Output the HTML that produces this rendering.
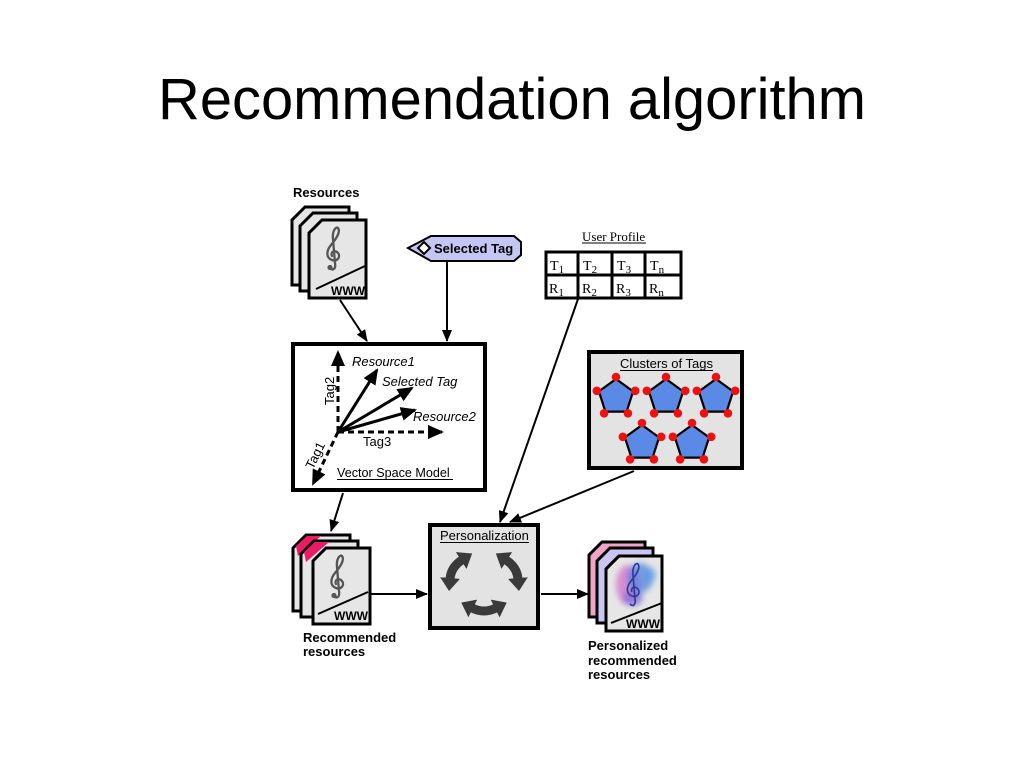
<!DOCTYPE html>
<html>
<head>
<meta charset="utf-8">
<style>
html,body{margin:0;padding:0;background:#fff;}
svg{display:block;}
text{font-family:"Liberation Sans",sans-serif;}
text.serif{font-family:"Liberation Serif",serif;}
</style>
</head>
<body>
<svg width="1024" height="768" viewBox="0 0 1024 768" xmlns="http://www.w3.org/2000/svg">
<defs>
  <marker id="ah" viewBox="0 0 12 10" markerWidth="12" markerHeight="10" refX="11" refY="5" orient="auto" markerUnits="userSpaceOnUse">
    <path d="M0,0 L12,5 L0,10 z" fill="#000"/>
  </marker>
  <marker id="big" viewBox="0 0 16 14" markerWidth="16" markerHeight="14" refX="14" refY="7" orient="auto" markerUnits="userSpaceOnUse">
    <path d="M0,0 L16,7 L0,14 z" fill="#000"/>
  </marker>
  <marker id="cah" viewBox="0 0 13 20" markerWidth="13" markerHeight="20" refX="1" refY="10" orient="auto-start-reverse" markerUnits="userSpaceOnUse">
    <path d="M0,0 L13,10 L0,20 z" fill="#3a3a3a"/>
  </marker>
  <g id="pent">
    <polygon points="0,-18 17.1,-5.6 10.6,14.6 -10.6,14.6 -17.1,-5.6" fill="#5a8ae6" stroke="#000" stroke-width="2.2"/>
    <circle cx="0" cy="-20" r="4.3" fill="#ee1111"/>
    <circle cx="19.2" cy="-6.2" r="4.3" fill="#ee1111"/>
    <circle cx="11.9" cy="16.3" r="4.3" fill="#ee1111"/>
    <circle cx="-11.9" cy="16.3" r="4.3" fill="#ee1111"/>
    <circle cx="-19.2" cy="-6.2" r="4.3" fill="#ee1111"/>
  </g>
  <g id="clef">
    <circle cx="6" cy="42.5" r="2.6" fill="#555"/>
    <path d="M6,43 C9,46 12,44 11,38 L9,14 C8,6 12,1 14,3 C17,7 12,14 7,20 C2,26 2,33 8,35 C13,37 17,32 14,28 C11,24 6,27 8,31" fill="none" stroke="#555" stroke-width="2.3" stroke-linecap="round"/>
  </g>
  <filter id="blur" x="-30%" y="-30%" width="160%" height="160%">
    <feGaussianBlur stdDeviation="3"/>
  </filter>
  <clipPath id="frontclip">
    <path d="M619,556 H662 V631 H606 V569 Z"/>
  </clipPath>
</defs>

<!-- Title -->
<text x="158" y="119" font-size="58" textLength="708" lengthAdjust="spacingAndGlyphs" fill="#000">Recommendation algorithm</text>

<!-- Resources stack -->
<text x="293" y="197" font-size="13" font-weight="bold">Resources</text>
<g stroke="#000" stroke-width="3" fill="#e6e6e6" stroke-linejoin="miter">
  <path d="M305,207 H349 V285 H292 V220 Z"/>
  <path d="M313,213 H357 V291 H300 V226 Z"/>
  <path d="M322,220 H366 V298 H309 V233 Z"/>
</g>
<use href="#clef" transform="translate(324,225)"/>
<line x1="316" y1="289" x2="365" y2="266" stroke="#000" stroke-width="2"/>
<text x="331" y="295" font-size="12" font-weight="bold">WWW</text>

<!-- Selected Tag -->
<path d="M408,248 L431,236 H514 L521,242 V255 L514,261 H431 Z" fill="#c6c6f4" stroke="#000" stroke-width="2"/>
<polygon points="424,242 430,248 424,254 418,248" fill="#fff" stroke="#000" stroke-width="2"/>
<text x="434" y="253" font-size="13" font-weight="bold">Selected Tag</text>

<!-- User Profile -->
<text class="serif" x="582" y="241" font-size="13">User Profile</text>
<line x1="582" y1="243" x2="646" y2="243" stroke="#000" stroke-width="1"/>
<g stroke="#000" stroke-width="3" fill="#fff">
  <rect x="546" y="252" width="135" height="46"/>
  <line x1="578" y1="252" x2="578" y2="298"/>
  <line x1="612" y1="252" x2="612" y2="298"/>
  <line x1="645" y1="252" x2="645" y2="298"/>
  <line x1="546" y1="275" x2="681" y2="275"/>
</g>
<g font-size="14">
  <text class="serif" x="550" y="270">T<tspan font-size="11" dy="3">1</tspan></text>
  <text class="serif" x="583" y="270">T<tspan font-size="11" dy="3">2</tspan></text>
  <text class="serif" x="617" y="270">T<tspan font-size="11" dy="3">3</tspan></text>
  <text class="serif" x="650" y="270">T<tspan font-size="11" dy="3">n</tspan></text>
  <text class="serif" x="549" y="293">R<tspan font-size="11" dy="3">1</tspan></text>
  <text class="serif" x="582" y="293">R<tspan font-size="11" dy="3">2</tspan></text>
  <text class="serif" x="616" y="293">R<tspan font-size="11" dy="3">3</tspan></text>
  <text class="serif" x="649" y="293">R<tspan font-size="11" dy="3">n</tspan></text>
</g>

<!-- Vector Space Model box -->
<rect x="293" y="344" width="192" height="146" fill="#fff" stroke="#000" stroke-width="4"/>
<g stroke="#000" stroke-width="3" fill="none">
  <line x1="338" y1="432" x2="338" y2="352" stroke-dasharray="6,4" marker-end="url(#big)"/>
  <line x1="338" y1="432" x2="442" y2="432" stroke-dasharray="6,4" marker-end="url(#big)"/>
  <line x1="338" y1="432" x2="313" y2="484" stroke-dasharray="6,4" marker-end="url(#big)"/>
  <line x1="338" y1="432" x2="377" y2="370" marker-end="url(#big)"/>
  <line x1="338" y1="432" x2="412" y2="388" marker-end="url(#big)"/>
  <line x1="338" y1="432" x2="415" y2="410" marker-end="url(#big)"/>
</g>
<g font-size="13" font-style="italic">
  <text x="352" y="366">Resource1</text>
  <text x="382" y="386">Selected Tag</text>
  <text x="413" y="421">Resource2</text>
</g>
<text x="363" y="446" font-size="13">Tag3</text>
<text transform="translate(334,405) rotate(-90)" font-size="13">Tag2</text>
<text transform="translate(313,470) rotate(-64)" font-size="13">Tag1</text>
<text x="337" y="477" font-size="12.6">Vector Space Model</text>
<line x1="337" y1="479.5" x2="453" y2="479.5" stroke="#000" stroke-width="1"/>

<!-- Clusters of Tags -->
<rect x="589" y="352" width="153" height="116" fill="#e3e3e3" stroke="#000" stroke-width="4"/>
<text x="620" y="368" font-size="13">Clusters of Tags</text>
<line x1="620" y1="370.5" x2="713" y2="370.5" stroke="#000" stroke-width="1"/>
<use href="#pent" transform="translate(616,397)"/>
<use href="#pent" transform="translate(666,397)"/>
<use href="#pent" transform="translate(716,397)"/>
<use href="#pent" transform="translate(642,443)"/>
<use href="#pent" transform="translate(692,443)"/>

<!-- Personalization -->
<rect x="430" y="525" width="108" height="103" fill="#e3e3e3" stroke="#000" stroke-width="4"/>
<text x="440" y="540" font-size="13">Personalization</text>
<line x1="440" y1="542.5" x2="529" y2="542.5" stroke="#000" stroke-width="1"/>
<g stroke="#3a3a3a" stroke-width="9" fill="none">
  <path d="M462,560 Q451,567 450,579" marker-start="url(#cah)" marker-end="url(#cah)"/>
  <path d="M506,560 Q517,567 518,579" marker-start="url(#cah)" marker-end="url(#cah)"/>
  <path d="M472,608 Q484,614 496,608" marker-start="url(#cah)" marker-end="url(#cah)"/>
</g>

<!-- Recommended resources stack -->
<g stroke="#000" stroke-width="3" fill="#e6e6e6">
  <path d="M306,535 H350 V611 H293 V548 Z"/>
  <polygon points="296,546 307,536 321,536 298,556" fill="#ea1a66" stroke="none"/>
  <path d="M314,541 H358 V617 H301 V554 Z"/>
  <polygon points="304,552 315,542 329,542 306,562" fill="#ea1a66" stroke="none"/>
  <path d="M326,548 H370 V624 H313 V561 Z"/>
</g>
<use href="#clef" transform="translate(328,553)"/>
<line x1="318" y1="614" x2="368" y2="592" stroke="#000" stroke-width="2"/>
<text x="334" y="620" font-size="12" font-weight="bold">WWW</text>
<text x="303" y="642" font-size="13" font-weight="bold">Recommended</text>
<text x="303" y="656" font-size="13" font-weight="bold">resources</text>

<!-- Personalized stack -->
<g stroke="#000" stroke-width="3">
  <path d="M602,542 H645 V617 H589 V555 Z" fill="#f2a4c6"/>
  <path d="M610,548 H653 V623 H597 V561 Z" fill="#c9c6f4"/>
  <path d="M619,556 H662 V631 H606 V569 Z" fill="#e6e6e6"/>
</g>
<g clip-path="url(#frontclip)">
  <g filter="url(#blur)">
    <ellipse cx="628" cy="585" rx="12" ry="20" fill="#d070c8" opacity="0.75"/>
    <ellipse cx="640" cy="578" rx="13" ry="15" fill="#4a7ee0" opacity="0.7"/>
    <ellipse cx="633" cy="598" rx="10" ry="8" fill="#7a6ad8" opacity="0.7"/>
    <ellipse cx="650" cy="575" rx="6" ry="8" fill="#5a9ae8" opacity="0.6"/>
  </g>
  <g transform="translate(624,561)">
    <path d="M6,43 C9,46 12,44 11,38 L9,14 C8,6 12,1 14,3 C17,7 12,14 7,20 C2,26 2,33 8,35 C13,37 17,32 14,28 C11,24 6,27 8,31" fill="none" stroke="#2a3a9a" stroke-width="1.6"/>
  </g>
</g>
<line x1="611" y1="623" x2="662" y2="603" stroke="#000" stroke-width="2"/>
<text x="626" y="628" font-size="12" font-weight="bold">WWW</text>
<path d="M619,556 H662 V631 H606 V569 Z" fill="none" stroke="#000" stroke-width="3"/>
<text x="588" y="650" font-size="13" font-weight="bold">Personalized</text>
<text x="588" y="665" font-size="13" font-weight="bold">recommended</text>
<text x="588" y="679" font-size="13" font-weight="bold">resources</text>

<!-- Connectors -->
<g stroke="#000" stroke-width="2" fill="none">
  <line x1="340" y1="300" x2="367" y2="341" marker-end="url(#ah)"/>
  <line x1="447" y1="261" x2="447" y2="341" marker-end="url(#ah)"/>
  <line x1="578" y1="299" x2="500" y2="522" marker-end="url(#ah)"/>
  <line x1="634" y1="471" x2="510" y2="522" marker-end="url(#ah)"/>
  <line x1="343" y1="493" x2="331" y2="531" marker-end="url(#ah)"/>
  <line x1="371" y1="594" x2="427" y2="594" marker-end="url(#ah)"/>
  <line x1="541" y1="594" x2="588" y2="594" marker-end="url(#ah)"/>
</g>
</svg>
</body>
</html>
